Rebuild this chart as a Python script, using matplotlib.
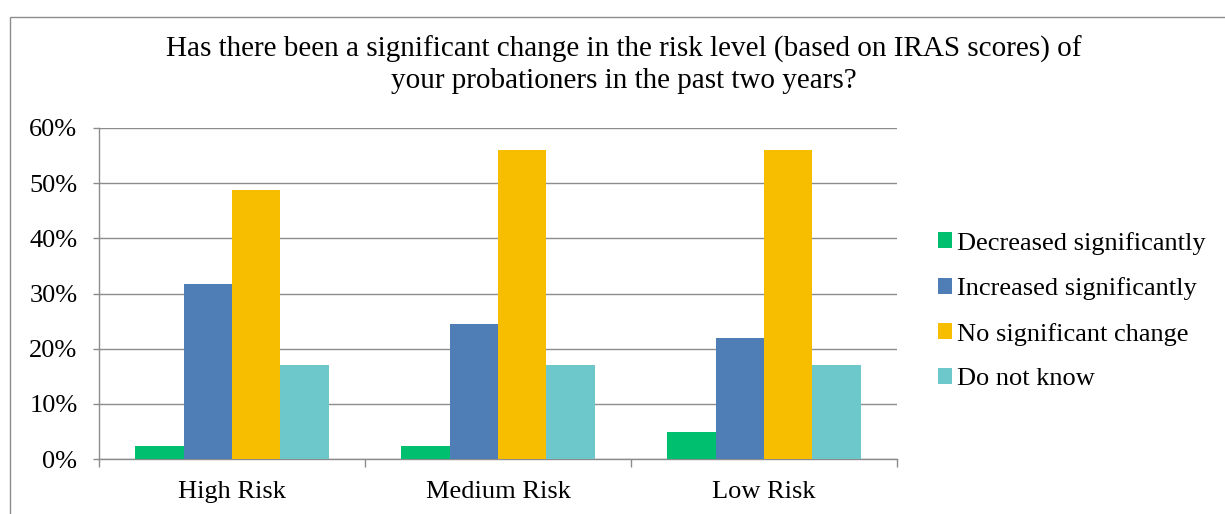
import matplotlib
matplotlib.use("Agg")
import matplotlib.pyplot as plt
from matplotlib.patches import Rectangle
from matplotlib.ticker import PercentFormatter
import numpy as np

categories = ["High Risk", "Medium Risk", "Low Risk"]
series_names = ["Decreased significantly", "Increased significantly",
                "No significant change", "Do not know"]
decreased = [2.4, 2.4, 4.9]
increased = [31.7, 24.4, 22.0]
no_change = [48.8, 56.1, 56.1]
do_not_know = [17.1, 17.1, 17.1]
colors = ["#00BF6F", "#4F7DB5", "#F7BE00", "#6DC8CC"]
y_ticks = [0, 10, 20, 30, 40, 50, 60]

plt.rcParams["font.family"] = ["Liberation Serif", "DejaVu Serif"]

fig = plt.figure(figsize=(12.25, 5.14), dpi=100)
fig.patch.set_facecolor("white")

# outer chart frame (left and top edges visible)
fig.add_artist(Rectangle((10 / 1225, -0.1), 1.2, 1 - 17 / 514 + 0.1,
                         transform=fig.transFigure, fill=False,
                         edgecolor="#8C8C8C", linewidth=1.0))

ax = fig.add_axes([99 / 1225, 1 - 459 / 514, 798 / 1225, 331 / 514])

series = [decreased, increased, no_change, do_not_know]
x = np.arange(len(categories))
width = 0.182
for i, (vals, name, c) in enumerate(zip(series, series_names, colors)):
    ax.bar(x + (i - 1.5) * width, vals, width=width, color=c, label=name,
           zorder=3, linewidth=0)

ax.set_xlim(-0.5, len(categories) - 0.5)
ax.set_ylim(0, 60)
ax.set_yticks(y_ticks)
ax.yaxis.set_major_formatter(PercentFormatter(decimals=0))
ax.grid(axis="y", color="#8C8C8C", linewidth=1.0, zorder=0)

ax.set_xticks(x)
ax.set_xticklabels(categories)
ax.set_xticks(np.arange(-0.5, len(categories)), minor=True)
ax.tick_params(axis="x", which="major", length=0, pad=16, labelsize=19)
ax.tick_params(axis="x", which="minor", length=6, color="#8C8C8C", width=1)
ax.tick_params(axis="y", length=4.5, color="#8C8C8C", width=1, labelsize=19, pad=11)

for side in ["top", "right"]:
    ax.spines[side].set_visible(False)
for side in ["left", "bottom"]:
    ax.spines[side].set_color("#8C8C8C")
    ax.spines[side].set_linewidth(1.0)

fig.text(624 / 1225, 1 - 65 / 514,
         "Has there been a significant change in the risk level (based on IRAS scores) of\n"
         "your probationers in the past two years?",
         ha="center", va="center", fontsize=21, linespacing=1.22)

ax.legend(loc="center left", bbox_to_anchor=(927 / 1225, 1 - 311 / 514),
          bbox_transform=fig.transFigure, frameon=False, fontsize=19,
          handlelength=0.55, handleheight=0.55, handletextpad=0.2,
          labelspacing=0.85, borderaxespad=0)

fig.savefig("out.png", dpi=100)
